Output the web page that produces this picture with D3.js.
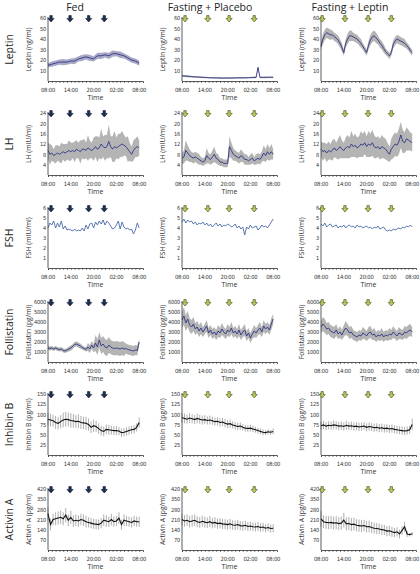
<!DOCTYPE html>
<html><head><meta charset="utf-8">
<script src="https://cdn.jsdelivr.net/npm/d3@7/dist/d3.min.js"></script>
<style>body{margin:0;background:#fff}svg{display:block}text{font-family:"Open Sans",sans-serif}
.tk{font-family:"Liberation Sans Narrow","DejaVu Sans Condensed","Open Sans",sans-serif;letter-spacing:-0.2px}</style>
</head><body><svg id="c" width="420" height="574"></svg>
<script>
const columns = ["Fed", "Fasting + Placebo", "Fasting + Leptin"];
const rowNames = ["Leptin", "LH", "FSH", "Follistatin", "Inhibin B", "Activin A"];
const yAxisLabels = ["Leptin (ng/ml)", "LH (mIU/ml)", "FSH (mIU/ml)", "Follistatin (pg/ml)", "Inhibin B (pg/ml)", "Activin A (pg/ml)"];
const yMax = [60, 24, 6, 6000, 150, 420];
const yTicks = [[10,20,30,40,50,60],[4,8,12,16,20,24],[1,2,3,4,5,6],[1000,2000,3000,4000,5000,6000],[25,50,75,100,125,150],[70,140,210,280,350,420]];
const timeLabels = ["08:00", "14:00", "20:00", "02:00", "08:00"];
const timeLabelHours = [0, 6, 12, 18, 24];
const arrowHours = [[0.8, 5.8, 10.7, 14.8], [0.8, 6.8, 12.4, 19.0], [0.3, 6.3, 12.4, 18.5]];

// Leptin (hours 0..24)
const leptinFed = [15,16,17,18,18,18,19,19,21,22,23,22,21,24,24,25,24,26,26,25,24,22,20,19,17];
const leptinFedErr = [2,2.5,2.5,2.5,3,2.5,2.5,3,2.5,3,2.5,3,2.5,3,3,2.5,3,3,2.5,3,2.5,2.5,2.5,2.5,2.5];
const leptinPla = [5,4.8,4.6,4.5,4.3,4.2,4,4,3.8,3.7,3.6,3.5,3.4,3.3,3.2,3.1,3,3,3,2.9,2.9,2.8,2.8,2.8,2.8,2.8,2.9,2.9,3,3,3,3,3,3.1,3.1,3.2,3.3,3.3,3.4,3.4,13,3.5,3.4,3.4,3.5,3.5,3.6,3.5,3.5];
const leptinPlaErr = [1,1,1,0.9,0.9,0.9,0.8,0.8,0.8,0.8,0.8,0.8,0.7,0.7,0.7,0.7,0.7,0.7,0.7,0.7,0.7,0.7,0.7,0.7,0.7,0.7,0.7,0.7,0.7,0.7,0.7,0.7,0.7,0.7,0.7,0.7,0.7,0.8,0.8,0.8,1,0.8,0.8,0.8,0.8,0.8,0.8,0.8,0.8];
const leptinLep = [33,40,44,46,45,44,44,42,41,39,36,32,27,36,40,43,43,42,41,40,38,36,33,30,27,34,39,42,43,41,39,36,34,31,28,26,24,27,35,38,40,39,38,37,36,34,32,29,27];
const leptinLepErr = [4,5,5,5,5,5,4,4,4,4,4,4,3,4,5,5,5,4,4,4,4,4,3,3,3,4,5,5,5,5,4,4,4,4,3,3,3,3,4,4,4,4,4,4,4,3,3,3,3];

// LH
const lhFed = [9.5,8,8.5,7.5,8,8.5,8,8.5,9,8.5,9,9.5,9,9.5,9,10,9.5,9,10,10,9.5,10.5,10,9.5,10,11,10,10.5,12,11,10.5,11,13,11,10,11,10.5,11,11.5,12,11.5,11,10,9,8,9.5,10.5,11,10.5];
const lhFedErr = [3,4,3,2.5,3.5,3,3,4,3,3.5,3,4,3.5,3,4,3.5,3,4.5,3.5,4,3,5,3.5,3,4.5,4,5,4,6,4,5,4.5,6.5,4,5,6,4,5,4.5,5,4,3.5,5,3.5,3,4,3.5,4,3];
const lhPla = [6.5,7,9.5,8.5,7.5,7,6.5,7,6.5,6,5.5,5,5.5,7.5,6.5,6,7,8,6.5,6,5,5,4.5,4.5,4.5,11,9.5,8,7.5,7,6.5,7.5,7,6,6,5.5,6,6.5,5.5,6,6.5,6,7,8.5,7.5,9,8,9,8];
const lhPlaErr = [2,2.5,4,3,2.5,2,2,2,2,2,1.5,1.5,1.5,3,2,2,2.5,3,2,2,1.5,1.5,1.5,1.5,1.5,4,3,2.5,2,2,2,2.5,2,2,2,1.5,2,2,1.5,2,2,2,2,3,2.5,3,2.5,3,2];
const lhLep = [10,9,9.5,8.5,9.5,9,9.5,10.5,9.5,10,11,10,9.5,10.5,11,10.5,12,11,11.5,10.5,11,12,11.5,12.5,11,12,11.5,12.5,11,10.5,11,10,11,10.5,10,9,8,10,11,12,11.5,13,15.5,13,12.5,14,13.5,13,12.5];
const lhLepErr = [3,3.5,3,3.5,3.5,3,4,3.5,3,4,4.5,3.5,3,4,4.5,4,5,4,4.5,4,4,5,4.5,4.5,4,5,4.5,5,4.5,4,4,4,4.5,4,4,3.5,3,4,4.5,4.5,4.5,5,5,4.5,4,4.5,4,3.5,3.5];

// FSH (line only)
const fshFed = [4,4.5,4.3,4.7,4,4.5,4.1,4.7,3.9,4.2,3.8,3.9,3.8,3.7,3.9,3.7,3.8,3.7,4,3.7,4.3,3.9,4.4,4.5,4,4.6,4.3,4.7,4.4,4.8,4.3,4.7,4.5,4.2,3.9,4,4.3,4.7,3.9,4.6,4.1,3.9,4,3.8,3.9,3.4,3.8,4.5,4];
const fshPla = [4.6,4.9,4.5,4.8,4.6,4.7,4.4,4.6,4.3,4.5,4.4,4.6,4.3,4.5,4.2,4.4,4.1,4.3,4.5,4.2,4.4,4.1,4.3,4.2,4.4,4.3,4.1,4.2,4.4,4,4.2,3.9,4.1,3.3,4.1,3.9,4.3,4,4.1,4.2,3.8,4,4.3,4.1,4.2,4,4.3,4.6,4.9];
const fshLep = [4.4,4.2,4.5,4.1,4.3,4.4,4.1,4.2,4.3,4,4.2,4.1,4.3,4,4.2,4.3,4.1,4.2,4,4.3,4.1,4.2,4,4.1,4.2,4,4.1,3.9,4.1,4,4.2,3.9,4,4.1,3.8,3.7,3.8,3.7,3.9,3.8,3.9,4,3.9,4.1,4,4.2,4.1,4.3,4.1];

// Follistatin
const folFed = [1400,1350,1400,1300,1400,1300,1250,1300,1150,1100,1200,1300,1400,1550,1750,1800,1700,1600,1450,1350,1250,1500,1300,1700,1400,1900,1500,2200,1600,1800,1500,1400,1700,1500,1400,1350,1400,1350,1300,1400,1300,1350,1250,1200,1150,1100,1200,1150,2000];
const folFedErr = [200,200,200,200,200,200,200,200,200,200,200,250,250,250,250,250,250,250,200,200,200,400,400,400,400,800,800,800,800,800,800,800,800,700,700,700,700,700,700,700,700,500,500,500,500,500,500,500,300];
const folPla = [4200,4600,3900,4300,3700,3500,3800,3300,3500,3100,3400,3000,3300,3600,2900,3200,2800,3000,2700,3100,2900,3300,3000,2800,3200,3000,3400,2900,3100,2800,3200,2700,3000,3200,2600,2900,2400,2800,3100,2900,3200,3400,3000,3600,3300,3500,3200,3800,4300];
const folPlaErr = [800,900,800,800,700,700,700,600,600,600,600,500,500,600,500,500,500,500,500,600,500,600,500,500,600,500,600,500,500,500,600,500,500,600,500,500,500,500,600,500,500,600,500,600,500,500,500,600,500];
const folLep = [3500,3800,3600,3300,3400,3100,3000,2900,3200,2800,3000,2700,3100,3400,3200,2900,3000,2700,2600,2500,2700,2600,2900,2800,2600,2900,3000,2700,2800,2500,2700,2600,2800,2500,2700,2600,2800,2700,3000,2800,2600,2900,2800,2700,3000,2900,3100,3200,3000];
const folLepErr = [600,700,700,600,600,600,600,600,600,500,600,500,600,700,600,600,600,500,500,500,500,500,600,500,500,600,600,500,600,500,500,500,600,500,500,500,600,500,600,500,500,600,500,500,600,600,600,600,500];

// Inhibin B (every 40 min)
const inhFed = [88,86,84,80,78,82,86,88,87,85,84,82,83,80,79,78,75,68,72,70,65,60,58,63,62,61,60,60,59,55,56,58,60,62,63,68,80];
const inhFedErr = [15,16,15,16,15,16,18,18,17,18,17,16,17,16,15,16,15,14,15,14,13,12,12,12,12,11,11,11,10,10,10,10,10,10,10,10,12];
const inhPla = [92,90,88,91,89,87,90,88,86,87,85,86,84,82,83,80,81,78,76,77,74,72,70,71,68,66,65,66,64,62,60,58,56,55,57,56,58];
const inhPlaErr = [12,12,11,12,11,11,12,11,11,11,10,11,10,10,10,10,10,10,10,10,9,9,9,9,8,8,8,8,8,7,7,7,7,6,6,6,7];
const inhLep = [72,74,71,73,72,74,73,71,72,70,73,71,72,70,71,69,70,71,68,70,69,67,68,66,67,65,66,64,65,63,62,61,60,59,60,62,75];
const inhLepErr = [10,10,10,10,10,11,10,10,10,10,11,10,10,10,10,10,10,10,10,10,10,10,10,10,10,10,10,10,10,10,10,10,10,10,10,10,14];

// Activin A (every 40 min)
const actFed = [250,175,210,215,220,225,215,240,205,225,200,205,200,210,205,195,190,185,180,178,175,185,205,200,195,210,195,200,220,175,205,200,195,190,200,195,195];
const actFedErr = [45,40,40,45,45,45,45,50,40,45,40,40,40,40,40,40,35,35,35,35,35,35,40,40,35,40,35,35,40,35,40,35,35,35,35,35,35];
const actPla = [210,200,205,195,200,205,195,190,198,192,188,195,185,190,182,185,180,178,175,180,172,170,175,168,165,170,162,165,160,158,162,155,158,150,155,148,150];
const actPlaErr = [40,40,40,40,40,40,38,38,38,38,36,38,36,36,35,35,35,34,34,34,33,33,33,32,32,32,31,31,30,30,30,30,30,28,28,28,28];
const actLep = [215,195,190,188,190,185,188,182,185,205,180,182,175,178,170,168,165,168,160,162,155,150,148,145,140,138,130,132,125,120,125,110,135,160,110,105,112];
const actLepErr = [55,45,45,45,45,45,45,45,45,50,45,45,45,45,42,42,42,40,40,40,38,38,38,36,36,35,35,35,35,32,32,30,30,35,20,12,12];

const panels = [
  [[leptinFed, leptinFedErr], [leptinPla, leptinPlaErr], [leptinLep, leptinLepErr]],
  [[lhFed, lhFedErr], [lhPla, lhPlaErr], [lhLep, lhLepErr]],
  [[fshFed, null], [fshPla, null], [fshLep, null]],
  [[folFed, folFedErr], [folPla, folPlaErr], [folLep, folLepErr]],
  [[inhFed, inhFedErr], [inhPla, inhPlaErr], [inhLep, inhLepErr]],
  [[actFed, actFedErr], [actPla, actPlaErr], [actLep, actLepErr]]
];
const styleByRow = ["band", "band", "line", "band", "bars", "bars"];

// layout
const colLeft = [48, 182, 321];
const plotW = 95;
const rowTop = [18, 113, 208, 302, 394, 489];
const rowBottom = [81, 175, 268, 362, 455, 550];
const colTitleX = [75, 210, 350];

const svg = d3.select("#c");

columns.forEach((c, j) => {
  svg.append("text").attr("x", colTitleX[j]).attr("y", 11).attr("text-anchor", "middle")
    .attr("font-size", 10.5).attr("fill", "#222").text(c);
});

const arrowPath = "M-1.2,-3.4 h2.4 v2.8 h1.9 l-3.1,3.6 l-3.1,-3.6 h1.9 z";

rowNames.forEach((rn, i) => {
  const y = d3.scaleLinear().domain([0, yMax[i]]).range([rowBottom[i], rowTop[i]]);
  svg.append("text").attr("transform", `translate(13,${(rowTop[i] + rowBottom[i]) / 2}) rotate(-90)`)
    .attr("text-anchor", "middle").attr("font-size", 10.5).attr("fill", "#222").text(rn);

  columns.forEach((c, j) => {
    const x = d3.scaleLinear().domain([0, 25]).range([colLeft[j], colLeft[j] + plotW]);
    const g = svg.append("g");
    const [vals, errs] = panels[i][j];
    const n = vals.length;
    const hx = k => x(k * 24 / (n - 1));
    const st = styleByRow[i];

    if (st === "band") {
      const area = d3.area().x((d, k) => hx(k)).y0((d, k) => y(Math.max(0, d - errs[k]))).y1((d, k) => y(d + errs[k]));
      g.append("path").datum(vals).attr("d", area)
        .attr("fill", (i === 0 && j === 0) ? "#a9a9c6" : "#b4b4b4").attr("stroke", "none");
    }
    if (st === "bars") {
      g.selectAll("line.eb").data(vals).join("line").attr("class", "eb")
        .attr("x1", (d, k) => hx(k)).attr("x2", (d, k) => hx(k))
        .attr("y1", (d, k) => y(d - errs[k])).attr("y2", (d, k) => y(d + errs[k]))
        .attr("stroke", "#9a9a9a").attr("stroke-width", 0.8);
    }
    const line = d3.line().x((d, k) => hx(k)).y(d => y(d));
    g.append("path").datum(vals).attr("d", line).attr("fill", "none")
      .attr("stroke", st === "bars" ? "#111" : (st === "line" ? "#4a6aa8" : "#2f3585"))
      .attr("stroke-width", st === "bars" ? 1.1 : 0.9);

    // axes
    const ya = g.append("g").attr("transform", `translate(${colLeft[j]},0)`)
      .call(d3.axisLeft(y).tickValues(yTicks[i]).tickSize(0).tickPadding(2)
        .tickFormat(d3.format("d")));
    ya.select(".domain").attr("stroke", "#333").attr("stroke-width", 0.8).attr("d", `M0,${rowTop[i] - 1}V${rowBottom[i]}`);
    ya.selectAll("text").attr("class", "tk").attr("font-size", 5.6).attr("fill", "#333");

    const xa = g.append("g").attr("transform", `translate(0,${rowBottom[i]})`)
      .call(d3.axisBottom(x).tickValues(d3.range(0, 25, 1)).tickSize(2).tickFormat(""));
    xa.select(".domain").attr("stroke", "#333").attr("stroke-width", 0.8);
    xa.selectAll(".tick line").attr("stroke", "#333").attr("stroke-width", 0.6);

    timeLabels.forEach((t, k) => {
      g.append("text").attr("class", "tk").attr("x", x(timeLabelHours[k])).attr("y", rowBottom[i] + 10.5)
        .attr("text-anchor", "middle").attr("font-size", 5.8).attr("fill", "#333").text(t);
    });
    g.append("text").attr("x", colLeft[j] + plotW / 2).attr("y", rowBottom[i] + 19)
      .attr("text-anchor", "middle").attr("font-size", 7).attr("fill", "#333").text("Time");

    g.append("text").attr("transform", `translate(${colLeft[j] - 17.5},${(rowTop[i] + rowBottom[i]) / 2}) rotate(-90)`)
      .attr("text-anchor", "middle").attr("font-size", 6.8).attr("fill", "#333").text(yAxisLabels[i]);

    // arrows
    arrowHours[j].forEach(h => {
      g.append("path").attr("d", arrowPath)
        .attr("transform", `translate(${x(h)},${rowTop[i] + 1})`)
        .attr("fill", j === 0 ? "#1e3050" : "#bcc85a")
        .attr("stroke", j === 0 ? "#0d1830" : "#3f4a1c").attr("stroke-width", 0.6);
    });
  });
});
</script></body></html>
